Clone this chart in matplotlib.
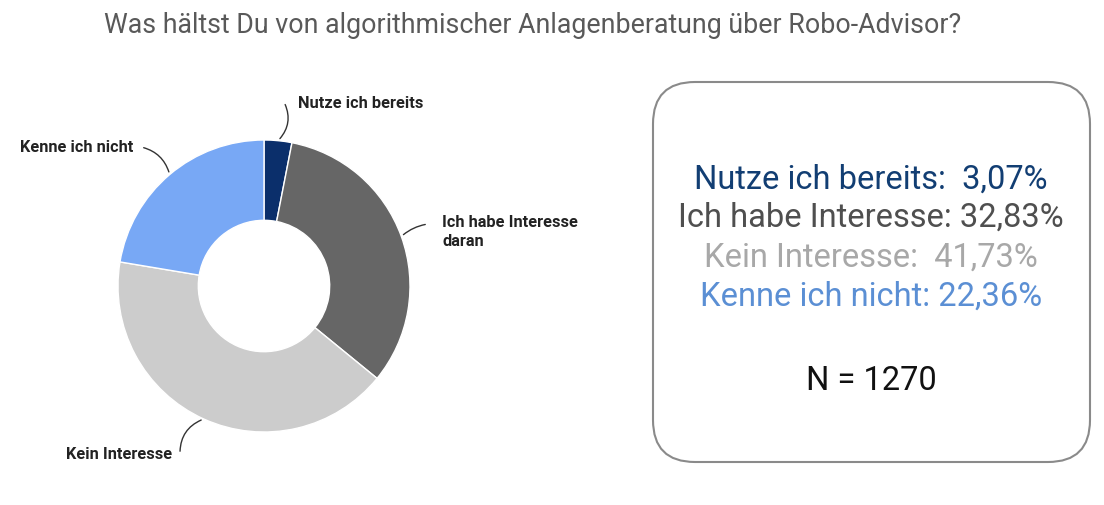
import numpy as np
import matplotlib.pyplot as plt
from matplotlib.patches import FancyBboxPatch

# survey data
categories = ["Nutze ich bereits", "Ich habe Interesse daran", "Kein Interesse", "Kenne ich nicht"]
shares = [3.07, 32.83, 41.73, 22.36]
donut_labels = ["Nutze ich bereits", "Ich habe Interesse\ndaran", "Kein Interesse", "Kenne ich nicht"]
box_lines = ["Nutze ich bereits:  3,07%", "Ich habe Interesse: 32,83%",
             "Kein Interesse:  41,73%", "Kenne ich nicht: 22,36%"]
n_total = 1270

colors = ["#0b2f6b", "#666666", "#cccccc", "#78a8f5"]
box_colors = ["#123e73", "#4f4f4f", "#a8a8a8", "#5b8fd4"]

W, H = 1104, 506
fig = plt.figure(figsize=(W / 100, H / 100), dpi=100)
ax = fig.add_axes([0, 0, 1, 1])

cx, cy, R = 264, H - 287, 146
wedges, _ = ax.pie(shares, colors=colors, startangle=90, counterclock=False,
                   radius=R, center=(cx, cy),
                   wedgeprops=dict(width=R * 0.55, edgecolor="white", linewidth=1))

ax.set_xlim(0, W)
ax.set_ylim(0, H)
ax.set_aspect("equal")
ax.axis("off")

# label positions (pixel, top-down) and leader curvature
label_pos = [(298, 103), (442, 225), (172, 455), (133, 148)]
label_ha = ["left", "left", "right", "right"]
rads = [-0.35, 0.15, -0.35, -0.3]
lab_font = ["Roboto", "DejaVu Sans"]

for w, txt, (lx, ly), ha, rad in zip(wedges, donut_labels, label_pos, label_ha, rads):
    ang = np.deg2rad((w.theta1 + w.theta2) / 2)
    px = cx + R * np.cos(ang)
    py = cy + R * np.sin(ang)
    tx = lx - 14 if ha == "left" else lx + 8
    ax.annotate("", xy=(px, py), xytext=(tx, H - ly),
                arrowprops=dict(arrowstyle="-", color="#333333", lw=1,
                                connectionstyle=f"arc3,rad={rad}"))
    va = "top" if "\n" in txt else "center"
    yy = H - ly + 10 if "\n" in txt else H - ly
    ax.text(lx, yy, txt, ha=ha, va=va, fontsize=11.8, fontweight="bold",
            color="#222222", family=lab_font, linespacing=1.3)

# rounded box
box = FancyBboxPatch((653, H - 463), 437, 380,
                     boxstyle="round,pad=0,rounding_size=42",
                     facecolor="white", edgecolor="#8a8a8a", linewidth=1.5)
ax.add_patch(box)

box_y = [180, 218, 258, 297]
for line, col, y in zip(box_lines, box_colors, box_y):
    ax.text(871, H - y, line, ha="center", va="center", fontsize=23.5,
            color=col, family=["Roboto", "DejaVu Sans"])
ax.text(871, H - 381, f"N = {n_total}", ha="center", va="center", fontsize=23.5,
        color="#111111", family=["Roboto", "DejaVu Sans"])

ax.text(533, H - 25, "Was hältst Du von algorithmischer Anlagenberatung über Robo-Advisor?",
        ha="center", va="center", fontsize=19.3, color="#595959",
        family=["Roboto", "DejaVu Sans"])

fig.savefig("out.png", dpi=100)
